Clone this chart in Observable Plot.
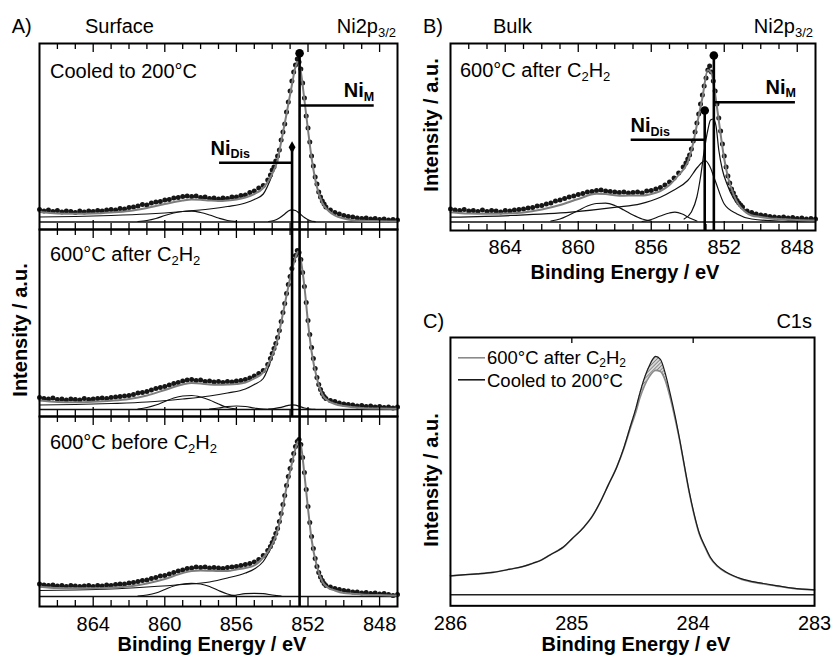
<!DOCTYPE html>
<html>
<head>
<meta charset="utf-8">
<script src="https://cdn.jsdelivr.net/npm/d3@7"></script>
<script src="https://cdn.jsdelivr.net/npm/@observablehq/plot@0.6"></script>
<style>
  body { margin: 0; background: #fff; }
  #fig { position: relative; width: 834px; height: 662px; overflow: hidden; font-family: "Liberation Sans", Arial, Helvetica, sans-serif; }
  #fig .p { position: absolute; }
  #ov { position: absolute; left: 0; top: 0; pointer-events: none; }
</style>
</head>
<body>
<div id="fig"></div>
<script>
// ---------------- DATA ----------------
// Ni2p3/2 measurement grid (binding energy, eV)
const energies = [867, 866.75, 866.5, 866.25, 866, 865.75, 865.5, 865.25, 865, 864.75, 864.5, 864.25, 864, 863.75, 863.5, 863.25, 863, 862.75, 862.5, 862.25, 862, 861.75, 861.5, 861.25, 861, 860.75, 860.5, 860.25, 860, 859.75, 859.5, 859.25, 859, 858.75, 858.5, 858.25, 858, 857.75, 857.5, 857.25, 857, 856.75, 856.5, 856.25, 856, 855.75, 855.5, 855.25, 855, 854.75, 854.5, 854.25,
  854.1, 854.0, 853.9, 853.8, 853.7, 853.6, 853.5, 853.4, 853.3, 853.2, 853.1, 853.0, 852.9, 852.8, 852.7, 852.6, 852.5, 852.4, 852.3, 852.2, 852.1, 852.0, 851.9, 851.8, 851.7, 851.6, 851.5, 851.4, 851.3, 851.2, 851.1, 851.0,
  850.75, 850.5, 850.25, 850, 849.75, 849.5, 849.25, 849, 848.75, 848.5, 848.25, 848, 847.75, 847.5, 847.25, 847];

const surfaceCooled = [12.5, 11, 12, 10.5, 11.5, 10, 11, 10.5, 9.5, 11, 10, 11, 10.5, 11.5, 11, 12, 12.5, 12, 13.5, 13, 14.5, 15, 16, 17.5, 17, 19, 20, 20.5, 22, 22.5, 24, 24.5, 25.5, 26, 25.5, 26, 24.5, 25, 23.5, 24, 23, 24, 23.5, 25, 25, 26.5, 27, 29.5, 31, 34, 36.5, 42,
  47, 52, 55, 61, 66, 72, 82, 90, 98, 110, 120, 131, 141, 150, 157, 163, 160, 153, 139, 124, 106, 94, 80, 66, 56, 45, 38, 30, 25, 21, 18, 15,
  12, 9.5, 8, 6.5, 5.5, 5, 4, 3.5, 4, 3, 3.5, 2.5, 3, 2, 2.5, 2];
const surfaceAfter = [12, 11, 10.5, 11.5, 10, 10.5, 9.5, 10.5, 10, 9.5, 11, 10, 10.5, 11, 11.5, 11, 12, 12.5, 13, 13.5, 14, 15, 16.5, 17, 18, 19.5, 21, 22, 23, 24.5, 26, 27, 28.5, 29.5, 30, 29, 29.5, 28, 28.5, 27.5, 28, 27, 28, 27.5, 28.5, 29, 30, 31.5, 33.5, 36, 39, 45,
  51, 56, 61, 66, 72, 79, 88, 97, 106, 116, 125, 133, 141, 149, 154, 159, 157, 150, 137, 123, 107, 89, 75, 62, 51, 41, 32, 25, 20, 16, 13, 11,
  9, 8, 6.5, 5.5, 5, 4.5, 3.5, 4, 3, 3.5, 2.5, 3, 2, 2.5, 1.5, 2.5];
const surfaceBefore = [12.5, 11.5, 11, 11.5, 10.5, 11, 10, 11, 10.5, 10, 10.5, 11, 10, 11, 10.5, 11.5, 11, 12, 12.5, 12.5, 13.5, 14, 15, 16, 16.5, 18, 19, 20.5, 21, 22.5, 24, 25.5, 26.5, 28, 28.5, 29.5, 29, 29.5, 28.5, 29, 28.5, 28, 29, 29.5, 30, 31, 32, 33, 34.5, 37, 41, 46,
  50, 54, 58, 63, 68, 75, 83, 92, 101, 111, 120, 128, 136, 143, 150, 155, 157, 152, 139, 124, 107, 90, 74, 60, 48, 38, 30, 24, 19.5, 16, 13, 11,
  9.5, 8, 7, 6, 5.5, 4.5, 4.5, 3.5, 4, 3, 3.5, 2.5, 3, 2, 1, 2];
const bulkAfter = [13, 12, 11.5, 12.5, 11, 11.5, 10.5, 12, 10.5, 11.5, 11, 10, 11.5, 11, 12, 12.5, 13, 14, 14.5, 16, 16.5, 18, 19, 21, 22, 23.5, 25, 26, 27.5, 28.5, 30, 30.5, 31.5, 32, 31, 30.5, 30, 29.5, 30, 29, 29.5, 30, 29, 31, 31.5, 33, 34.5, 37, 40, 44, 49, 55,
  59, 63, 67, 73, 81, 90, 99, 108, 118, 127, 136, 144, 152, 156, 150, 141, 131, 118, 104, 91, 78, 66, 55, 46, 39, 33, 29, 25, 21.5, 19, 17, 15,
  11, 9.5, 8, 7, 6.5, 5.5, 5, 4.5, 5, 4, 4.5, 3.5, 4, 3, 3.5, 3];

// fitted envelopes
const fitEnergies = [867, 866, 865, 864, 863, 862, 861, 860, 859, 858.5, 858, 857.5, 857, 856.5, 856, 855.5, 855, 854.5, 854, 853.7, 853.5, 853.2, 852.9, 852.7, 852.55, 852.4, 852.2, 852, 851.8, 851.5, 851.2, 850.9, 850.5, 850, 849.5, 849, 848, 847];
const fitSurfaceCooled = [10, 8.5, 8.2, 8.5, 9.5, 11, 14, 18, 21.5, 22.5, 22.3, 21.5, 21, 21.5, 22.5, 24.5, 28, 34, 48, 62, 80, 108, 137, 155, 160, 150, 122, 92, 64, 35, 19, 12, 6.5, 3.5, 1.8, 1.2, 0.8, 0.5];
const fitSurfaceAfter = [9, 7.5, 7.3, 7.8, 8.8, 10.5, 14, 19.5, 25, 26.5, 26, 25, 24.8, 25, 25.5, 27, 31, 37, 54, 70, 87, 114, 139, 152, 158, 149, 123, 87, 58, 31, 15, 9, 5.5, 3.5, 2.3, 1.6, 1, 0.7];
const fitSurfaceBefore = [9.8, 8.5, 8.2, 8.2, 8.8, 10, 13, 17.5, 23.5, 25.5, 26, 25.8, 25.5, 25.5, 27, 28.5, 31, 39, 52, 66, 81, 109, 133, 148, 155, 151, 122, 88, 57, 30, 15, 9, 6, 3.5, 2.8, 2, 1.4, 1];
const fitBulkAfter = [9.8, 8.5, 8.2, 8.5, 9.5, 12.5, 17, 23, 28.2, 28, 26.8, 26.3, 26.5, 26.5, 28, 31, 37, 47, 60, 79, 97, 124, 152, 149, 134, 115, 88, 63, 45, 28, 17, 11, 6.5, 5, 3.5, 3, 2, 1.5];

// fit components
const satEnergies = [861.5, 861, 860.5, 860, 859.5, 859, 858.5, 858, 857.5, 857, 856.5, 856];
const satSurfaceCooled = [0.5, 1.5, 3.5, 6.5, 9, 10.5, 10.8, 9.5, 7, 4, 1.5, 0.3];
const satSurfaceAfter = [0.5, 2, 4.5, 8, 11.5, 13.5, 14, 12.5, 9.5, 5.5, 2, 0.5];
const satSurfaceBefore = [0.3, 1.5, 3.5, 7, 10.5, 12.5, 13.2, 12.5, 10, 6, 2.5, 0.5];
const satBulk = [1, 3, 7, 11.5, 16, 18.5, 18.8, 16.5, 12, 7, 3, 1];

const tailEnergies = [867, 865, 863, 861, 859, 857.5, 856.5, 855.5, 855, 854.5, 854];
const tailSurfaceCooled = [5, 5.5, 6.5, 8, 10.5, 13, 15.5, 19, 22.5, 28, 47];
const tailSurfaceAfter = [4.5, 5, 6, 7.5, 10.5, 13.5, 16.5, 20.5, 25, 31, 53];
const tailSurfaceBefore = [6, 6.5, 7.5, 9.5, 12, 14.5, 18.5, 23.5, 27.5, 35, 51];

const disEnergies = [854.2, 853.9, 853.6, 853.3, 853.1, 852.9, 852.7, 852.5, 852.2, 851.9, 851.6];
const disSurfaceCooled = [0.5, 1.5, 4, 8, 11, 12.2, 11.5, 9, 4.5, 1.5, 0.3];
const disSurfaceAfter = [0.3, 0.8, 1.8, 3.2, 4.2, 4.7, 4.3, 3.2, 1.5, 0.5, 0.1];

const smallEnergies = [857.5, 857, 856.5, 856, 855.5, 855, 854.5, 854, 853.5];
const smallSurfaceAfter = [0.3, 1.5, 3, 3.5, 3, 1.5, 0.3, 0, 0];
const smallSurfaceBefore = [0, 0, 0.3, 1.5, 2.8, 3.2, 2.8, 1.5, 0.3];

const bulkDisEnergies = [867, 863.7, 860.4, 857.9, 856.6, 855.5, 854.8, 854.0, 853.45, 853.05, 852.8, 852.5, 852.0, 851.3, 850.5, 849, 847];
const bulkDis = [4.8, 6.5, 9.8, 14.8, 18.2, 24.8, 31.5, 41.5, 55, 61.5, 56, 41.5, 18, 8, 3, 1, 0.5];
const bulkMEnergies = [854.2, 853.8, 853.5, 853.3, 853.1, 852.9, 852.75, 852.6, 852.45, 852.3, 852.1, 851.85, 851.5, 851.1, 850.6, 850.2, 849.5, 848.4, 847];
const bulkM = [3, 10, 25, 45, 71, 92, 102, 103, 96, 72, 52, 38, 24, 15, 9, 6.5, 4, 1.8, 1];
const bulkSmallEnergies = [856.5, 856, 855.5, 855, 854.7, 854.3, 853.9, 853.5];
const bulkSmall = [0.5, 2.5, 6, 9, 9.8, 8, 4, 1];

// peak markers (Ni_M, Ni_Dis)
const markerSubs = ["M", "Dis"];
const surfaceMarkerE = [852.47, 852.89];
const surfaceMarkerTop = [168.8, 74.8];
const surfaceLineI = [116.5, 59.2];
const surfaceLineEnd = [848.3, 856.94];
const surfaceLabelE = [850.0, 857.45];
const surfaceLabelI = [124.8, 67.5];
const bulkMarkerE = [852.57, 853.07];
const bulkMarkerTop = [166.5, 111.5];
const bulkLineI = [119.8, 82.2];
const bulkLineEnd = [848.1, 857.1];
const bulkLabelE = [849.74, 857.14];
const bulkLabelI = [128.2, 89.8];

// tick values
const majorTicks = [864, 860, 856, 852, 848];
const minorTicks = [866, 865, 863, 862, 861, 859, 858, 857, 855, 854, 853, 851, 850, 849];
const c1sTicks = [286, 285, 284, 283];
const c1sInnerTicks = [285, 284];

// C1s spectra
const c1sEnergies = [286, 285.9, 285.78, 285.65, 285.51, 285.4, 285.32, 285.25, 285.18, 285.12, 285.07, 285, 284.9, 284.83, 284.77, 284.7, 284.63, 284.57, 284.52, 284.47, 284.44, 284.4, 284.36, 284.31, 284.27, 284.23, 284.19, 284.15, 284.11, 284.07, 284.03, 283.99, 283.95, 283.9, 283.86, 283.8, 283.73, 283.6, 283.45, 283.3, 283.18, 283];
const c1sCooled = [19, 20, 21, 22.5, 25.7, 28.5, 31.7, 35, 40, 44, 48, 56, 68, 79, 92, 110, 128, 148, 168, 188, 202, 218, 230, 239, 236, 222, 202, 180, 155, 128, 102, 80, 62, 48, 38, 29, 23, 16, 12, 9, 6.7, 5];
const c1sAfter = [19, 20, 21, 22.5, 25.7, 28.5, 31.7, 35, 40, 44, 47.5, 56, 68, 79, 92, 110, 128, 147, 166, 184, 197, 210, 219, 225, 224, 215, 198, 177, 154, 127, 101, 79, 61, 47, 37, 28.5, 22.5, 15.5, 11.5, 8.5, 6.5, 5];

// ---------------- DRAWING ----------------
const FONT = '"Liberation Sans", Arial, Helvetica, sans-serif';
const fig = document.getElementById("fig");
const baseStyle = {fontFamily: FONT, fontSize: "20px", background: "transparent", overflow: "visible", color: "#000"};
const idx = [0, 1];
const intFormat = d => String(Math.round(d));

function place(node, left, top) {
  const d = document.createElement("div");
  d.className = "p";
  d.style.left = left + "px";
  d.style.top = top + "px";
  d.appendChild(node);
  fig.appendChild(d);
}

function tickMarks(list, innerH, len, where) {
  const st = {x: d => d, stroke: "#000", strokeWidth: 1.3};
  return where === "bottom"
    ? Plot.ruleX(list, {...st, insetTop: innerH - len})
    : Plot.ruleX(list, {...st, insetBottom: innerH - len});
}

function niPanel(o) {
  const mb = o.tickLabels ? 34 : 1;
  const marks = [
    Plot.ruleY([0], {stroke: "#111", strokeWidth: 1.3}),
    ...o.comps.map(c => Plot.line(c[1], {x: c[0], y: c[1], curve: "monotone-x", stroke: "#111", strokeWidth: 1.2})),
    Plot.dot(o.dots, {x: energies, y: o.dots, r: 2.5, fill: "#161616", stroke: "none"}),
    Plot.line(o.fit, {x: fitEnergies, y: o.fit, curve: "monotone-x", stroke: "#7d7d7d", strokeWidth: 2}),
    ...o.extra,
    tickMarks(minorTicks, o.frameH, 6, "bottom"),
    tickMarks(majorTicks, o.frameH, 9, "bottom"),
    tickMarks(minorTicks, o.frameH, 6, "top"),
    tickMarks(majorTicks, o.frameH, 9, "top"),
    Plot.frame({stroke: "#000", strokeWidth: 2})
  ];
  const xOpts = {domain: [867, 847]};
  if (o.tickLabels) {
    marks.push(Plot.axisX(majorTicks, {anchor: "bottom", tickSize: 0, tickPadding: o.tickPad, fontSize: 20, label: null, tickFormat: intFormat}));
  } else {
    xOpts.axis = null;
  }
  return Plot.plot({
    width: o.frameW + 2, height: o.frameH + 1 + mb,
    marginTop: 1, marginRight: 1, marginBottom: mb, marginLeft: 1,
    x: xOpts, y: {domain: o.yDomain, axis: null},
    style: baseStyle, marks
  });
}

function markerMarks(E, top, lineI, lineEnd, labE, labI, yMin, symbols) {
  return [
    Plot.ruleX(idx, {x: i => E[i], y1: () => yMin, y2: i => top[i], stroke: "#000", strokeWidth: 2.6}),
    Plot.ruleY(idx, {y: i => lineI[i], x1: i => E[i], x2: i => lineEnd[i], stroke: "#000", strokeWidth: 2.4}),
    Plot.dot([0], {x: i => E[i], y: i => top[i], r: 4.3, fill: "#000", symbol: symbols[0]}),
    Plot.dot([1], {x: i => E[i], y: i => top[i], r: symbols[1] === "diamond" ? 3.6 : 4.3, fill: "#000", symbol: symbols[1]}),
    Plot.text(idx, {x: i => labE[i], y: i => labI[i], text: () => "Ni", textAnchor: "start", lineAnchor: "bottom", fontWeight: "bold", fontSize: 20}),
    Plot.text(idx, {x: i => labE[i], y: i => labI[i], text: i => markerSubs[i], dx: 20, dy: 3.5, textAnchor: "start", lineAnchor: "bottom", fontWeight: "bold", fontSize: 12.5})
  ];
}

// Panel A - top (Cooled to 200°C)
const yTop = [-7.5, 178.5];
place(niPanel({
  frameW: 358, frameH: 186, yDomain: yTop, dots: surfaceCooled, fit: fitSurfaceCooled,
  comps: [[satEnergies, satSurfaceCooled], [tailEnergies, tailSurfaceCooled], [disEnergies, disSurfaceCooled]],
  extra: markerMarks(surfaceMarkerE, surfaceMarkerTop, surfaceLineI, surfaceLineEnd, surfaceLabelE, surfaceLabelI, yTop[0], ["circle", "diamond"])
}), 37.5, 42);

// Panel A - middle (600°C after C2H2)
place(niPanel({
  frameW: 358, frameH: 187, yDomain: [-7, 180], dots: surfaceAfter, fit: fitSurfaceAfter,
  comps: [[satEnergies, satSurfaceAfter], [tailEnergies, tailSurfaceAfter], [disEnergies, disSurfaceAfter], [smallEnergies, smallSurfaceAfter]],
  extra: [Plot.ruleX(surfaceMarkerE, {x: d => d, stroke: "#000", strokeWidth: 2.6})]
}), 37.5, 228);

// Panel A - bottom (600°C before C2H2)
place(niPanel({
  frameW: 358, frameH: 190, yDomain: [-10, 180], dots: surfaceBefore, fit: fitSurfaceBefore,
  comps: [[satEnergies, satSurfaceBefore], [tailEnergies, tailSurfaceBefore], [smallEnergies, smallSurfaceBefore]],
  extra: [Plot.ruleX([surfaceMarkerE[0]], {x: d => d, stroke: "#000", strokeWidth: 2.6})],
  tickLabels: true, tickPad: 10
}), 37.5, 415);

// Panel B - bulk
const yBulk = [-8.5, 178.5];
place(niPanel({
  frameW: 365, frameH: 187, yDomain: yBulk, dots: bulkAfter, fit: fitBulkAfter,
  comps: [[satEnergies, satBulk], [bulkDisEnergies, bulkDis], [bulkMEnergies, bulkM], [bulkSmallEnergies, bulkSmall]],
  extra: markerMarks(bulkMarkerE, bulkMarkerTop, bulkLineI, bulkLineEnd, bulkLabelE, bulkLabelI, yBulk[0], ["circle", "circle"]),
  tickLabels: true, tickPad: 9.5
}), 449, 42);

// Panel C - C1s
(function () {
  const frameW = 365, frameH = 269, mb = 34;
  const chart = Plot.plot({
    width: frameW + 40, height: frameH + 1 + mb,
    marginTop: 1, marginRight: 20, marginBottom: mb, marginLeft: 20,
    x: {domain: [286, 283]}, y: {domain: [-11, 258], axis: null},
    style: baseStyle,
    marks: [
      Plot.ruleY([0], {stroke: "#222", strokeWidth: 1.5}),
      Plot.areaY(c1sCooled, {x: c1sEnergies, y1: c1sAfter, y2: c1sCooled, curve: "monotone-x", fill: "url(#hatch)"}),
      Plot.line(c1sAfter, {x: c1sEnergies, y: c1sAfter, curve: "monotone-x", stroke: "#8a8a8a", strokeWidth: 1.6}),
      Plot.line(c1sCooled, {x: c1sEnergies, y: c1sCooled, curve: "monotone-x", stroke: "#1a1a1a", strokeWidth: 1.2}),
      tickMarks(c1sInnerTicks, frameH, 6, "top"),
      Plot.axisX(c1sTicks, {anchor: "bottom", tickSize: 0, tickPadding: 10, fontSize: 20, label: null, tickFormat: intFormat}),
      Plot.frame({stroke: "#000", strokeWidth: 2})
    ]
  });
  place(chart, 430, 336);
})();

// Text overlay: panel titles, axis titles, annotations, legend
const ns = "http://www.w3.org/2000/svg";
const ov = document.createElementNS(ns, "svg");
ov.setAttribute("id", "ov");
ov.setAttribute("width", 834);
ov.setAttribute("height", 662);
const c2h2 = 'C<tspan font-size="13" dy="4">2</tspan><tspan dy="-4">H</tspan><tspan font-size="13" dy="4">2</tspan>';
const c2h2s = 'C<tspan font-size="12" dy="3">2</tspan><tspan dy="-3">H</tspan><tspan font-size="12" dy="3">2</tspan>';
ov.innerHTML = `
<defs>
  <pattern id="hatch" width="2.6" height="2.6" patternUnits="userSpaceOnUse" patternTransform="rotate(45)">
    <rect width="2.6" height="2.6" fill="#d9d9d9"/>
    <line x1="0" y1="0" x2="0" y2="2.6" stroke="#444" stroke-width="1"/>
  </pattern>
</defs>
<g font-family='${FONT}' font-size="20" fill="#000">
  <text x="11.7" y="33">A)</text>
  <text x="85" y="33">Surface</text>
  <text x="396" y="33" text-anchor="end">Ni2p<tspan font-size="13" dy="4">3/2</tspan></text>
  <text x="423" y="33">B)</text>
  <text x="493" y="33">Bulk</text>
  <text x="813" y="33" text-anchor="end">Ni2p<tspan font-size="13" dy="4">3/2</tspan></text>
  <text x="423" y="328">C)</text>
  <text x="812" y="328" text-anchor="end">C1s</text>

  <text x="50" y="78">Cooled to 200°C</text>
  <text x="50" y="261">600°C after ${c2h2}</text>
  <text x="50" y="449">600°C before ${c2h2}</text>
  <text x="460" y="77">600°C after ${c2h2}</text>

  <g font-weight="bold">
    <text x="212" y="651" text-anchor="middle">Binding Energy / eV</text>
    <text x="625" y="279" text-anchor="middle">Binding Energy / eV</text>
    <text x="636" y="651" text-anchor="middle">Binding Energy / eV</text>
    <text transform="translate(26.5,330) rotate(-90)" text-anchor="middle">Intensity / a.u.</text>
    <text transform="translate(438,125) rotate(-90)" text-anchor="middle">Intensity / a.u.</text>
    <text transform="translate(438,480) rotate(-90)" text-anchor="middle">Intensity / a.u.</text>
  </g>

  <line x1="458" x2="485" y1="357.8" y2="357.8" stroke="#8a8a8a" stroke-width="1.6"/>
  <text x="487" y="363.5" font-size="18.5">600°C after ${c2h2s}</text>
  <line x1="458" x2="485" y1="379.8" y2="379.8" stroke="#1a1a1a" stroke-width="1.6"/>
  <text x="487" y="386.5" font-size="18.5">Cooled to 200°C</text>
</g>`;
fig.appendChild(ov);
</script>
</body>
</html>
